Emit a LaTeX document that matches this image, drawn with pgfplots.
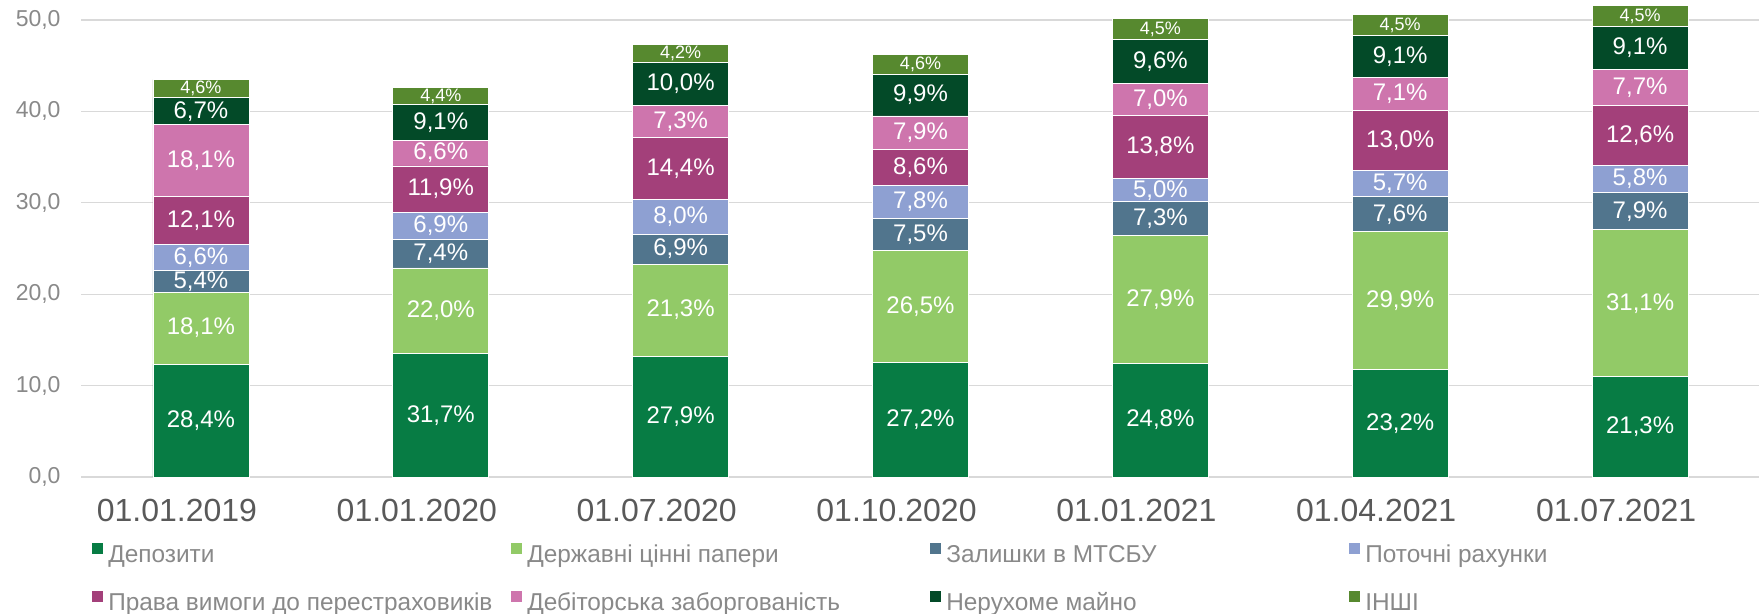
\documentclass[border=0pt]{standalone}
\usepackage{fontspec}
\setmainfont{Liberation Sans}
\usepackage{pgfplots}
\pgfplotsset{compat=1.18}
\usepackage{pgfplotstable}

\definecolor{depc}{RGB}{7,124,68}
\definecolor{govc}{RGB}{146,202,103}
\definecolor{mtsc}{RGB}{81,117,141}
\definecolor{curc}{RGB}{142,160,210}
\definecolor{reic}{RGB}{163,64,122}
\definecolor{debc}{RGB}{206,117,173}
\definecolor{reac}{RGB}{3,74,40}
\definecolor{othc}{RGB}{87,137,47}
\definecolor{gridc}{RGB}{217,217,217}
\definecolor{tickc}{RGB}{137,137,137}
\definecolor{catc}{RGB}{89,89,89}
\definecolor{legc}{RGB}{137,137,137}

\pgfplotstableread{
x dep depl gov govl mts mtsl cur curl rei reil deb debl rea real oth othl
0 12.35 28,4 7.87 18,1 2.35 5,4 2.87 6,6 5.26 12,1 7.87 18,1 2.91 6,7 2.00 4,6
1 13.50 31,7 9.37 22,0 3.15 7,4 2.94 6,9 5.07 11,9 2.81 6,6 3.88 9,1 1.87 4,4
2 13.21 27,9 10.09 21,3 3.27 6,9 3.79 8,0 6.82 14,4 3.46 7,3 4.74 10,0 1.99 4,2
3 12.57 27,2 12.24 26,5 3.47 7,5 3.60 7,8 3.97 8,6 3.65 7,9 4.57 9,9 2.13 4,6
4 12.45 24,8 14.01 27,9 3.66 7,3 2.51 5,0 6.93 13,8 3.51 7,0 4.82 9,6 2.26 4,5
5 11.72 23,2 15.10 29,9 3.84 7,6 2.88 5,7 6.57 13,0 3.59 7,1 4.60 9,1 2.27 4,5
6 10.99 21,3 16.05 31,1 4.08 7,9 2.99 5,8 6.50 12,6 3.97 7,7 4.70 9,1 2.32 4,5
}\data

\pgfplotsset{
  frame/.style={at={(0pt,0pt)}, anchor=south west,
    scale only axis, width=839.5pt, height=228.5pt,
    xmin=-0.5, xmax=6.5, ymin=0, ymax=50, clip=false},
  lbl/.style={only marks, mark=*, mark size=0pt, mark options={draw=none, fill=none}},
}

\begin{document}
\begin{tikzpicture}
\useasboundingbox (-40.5pt,-68.5pt) rectangle (839pt,238.5pt);
\begin{axis}[
  frame,
  ybar stacked, bar width=48pt,
  xtick={0,1,2,3,4,5,6},
  xticklabels={01.01.2019,01.01.2020,01.07.2020,01.10.2020,01.01.2021,01.04.2021,01.07.2021},
  ytick={0,10,20,30,40,50},
  axis line style={draw=none},
  major tick length=0pt,
  ymajorgrids, grid style={draw=gridc, line width=0.6pt},
  /pgf/number format/assume math mode=true,
  /pgf/number format/fixed,
  /pgf/number format/fixed zerofill,
  /pgf/number format/precision=1,
  /pgf/number format/use comma,
  yticklabel style={font=\fontsize{11.5}{13}\selectfont, text=tickc, xshift=-6.7pt},
  xticklabel style={font=\fontsize{16}{19}\selectfont, text=catc, anchor=center, yshift=-16.5pt, xshift=-12pt},
  legend columns=4,
  legend style={at={(0,0)}, anchor=north west, xshift=5.45pt, yshift=-32.6pt, draw=none, fill=none, inner sep=0pt,
    font=\fontsize{12.2}{14}\selectfont, text=legc, row sep=11pt,
    nodes={inner sep=0pt, text height=8.8pt, text depth=3.2pt},
    /tikz/every even column/.append style={column sep=0pt}},
  every axis plot post/.append style={legend image code/.code={\fill[##1,draw=none] (0pt,1.6pt) rectangle (5.5pt,7.1pt);}},
]
\addplot[fill=depc, draw=white, line width=0.4pt] table[x=x, y=dep]{\data};
\addlegendentry{\makebox[204pt][l]{\hspace{2.5pt}Депозити}}
\addplot[fill=govc, draw=white, line width=0.4pt] table[x=x, y=gov]{\data};
\addlegendentry{\makebox[204pt][l]{\hspace{2.5pt}Державні цінні папери}}
\addplot[fill=mtsc, draw=white, line width=0.4pt] table[x=x, y=mts]{\data};
\addlegendentry{\makebox[204pt][l]{\hspace{2.5pt}Залишки в МТСБУ}}
\addplot[fill=curc, draw=white, line width=0.4pt] table[x=x, y=cur]{\data};
\addlegendentry{\makebox[204pt][l]{\hspace{2.5pt}Поточні рахунки}}
\addplot[fill=reic, draw=white, line width=0.4pt] table[x=x, y=rei]{\data};
\addlegendentry{\makebox[204pt][l]{\hspace{2.5pt}Права вимоги до перестраховиків}}
\addplot[fill=debc, draw=white, line width=0.4pt] table[x=x, y=deb]{\data};
\addlegendentry{\makebox[204pt][l]{\hspace{2.5pt}Дебіторська заборгованість}}
\addplot[fill=reac, draw=white, line width=0.4pt] table[x=x, y=rea]{\data};
\addlegendentry{\makebox[204pt][l]{\hspace{2.5pt}Нерухоме майно}}
\addplot[fill=othc, draw=white, line width=0.4pt] table[x=x, y=oth]{\data};
\addlegendentry{\makebox[204pt][l]{\hspace{2.5pt}ІНШІ}}
\end{axis}
\begin{axis}[
  frame, hide axis,
  nodes near coords={\pgfplotspointmeta\%},
  point meta=explicit symbolic,
  every node near coord/.append style={anchor=center, text=white, font=\fontsize{12}{14}\selectfont, inner sep=0pt},
]
\addplot[lbl] table[x=x, y expr=\thisrow{dep}/2, meta=depl]{\data};
\addplot[lbl] table[x=x, y expr=\thisrow{dep}+\thisrow{gov}/2, meta=govl]{\data};
\addplot[lbl] table[x=x, y expr=\thisrow{dep}+\thisrow{gov}+\thisrow{mts}/2, meta=mtsl]{\data};
\addplot[lbl] table[x=x, y expr=\thisrow{dep}+\thisrow{gov}+\thisrow{mts}+\thisrow{cur}/2, meta=curl]{\data};
\addplot[lbl] table[x=x, y expr=\thisrow{dep}+\thisrow{gov}+\thisrow{mts}+\thisrow{cur}+\thisrow{rei}/2, meta=reil]{\data};
\addplot[lbl] table[x=x, y expr=\thisrow{dep}+\thisrow{gov}+\thisrow{mts}+\thisrow{cur}+\thisrow{rei}+\thisrow{deb}/2, meta=debl]{\data};
\addplot[lbl] table[x=x, y expr=\thisrow{dep}+\thisrow{gov}+\thisrow{mts}+\thisrow{cur}+\thisrow{rei}+\thisrow{deb}+\thisrow{rea}/2, meta=real]{\data};
\addplot[lbl, every node near coord/.append style={font=\fontsize{9}{11}\selectfont}] table[x=x, y expr=\thisrow{dep}+\thisrow{gov}+\thisrow{mts}+\thisrow{cur}+\thisrow{rei}+\thisrow{deb}+\thisrow{rea}+\thisrow{oth}/2, meta=othl]{\data};
\end{axis}
\end{tikzpicture}
\end{document}
